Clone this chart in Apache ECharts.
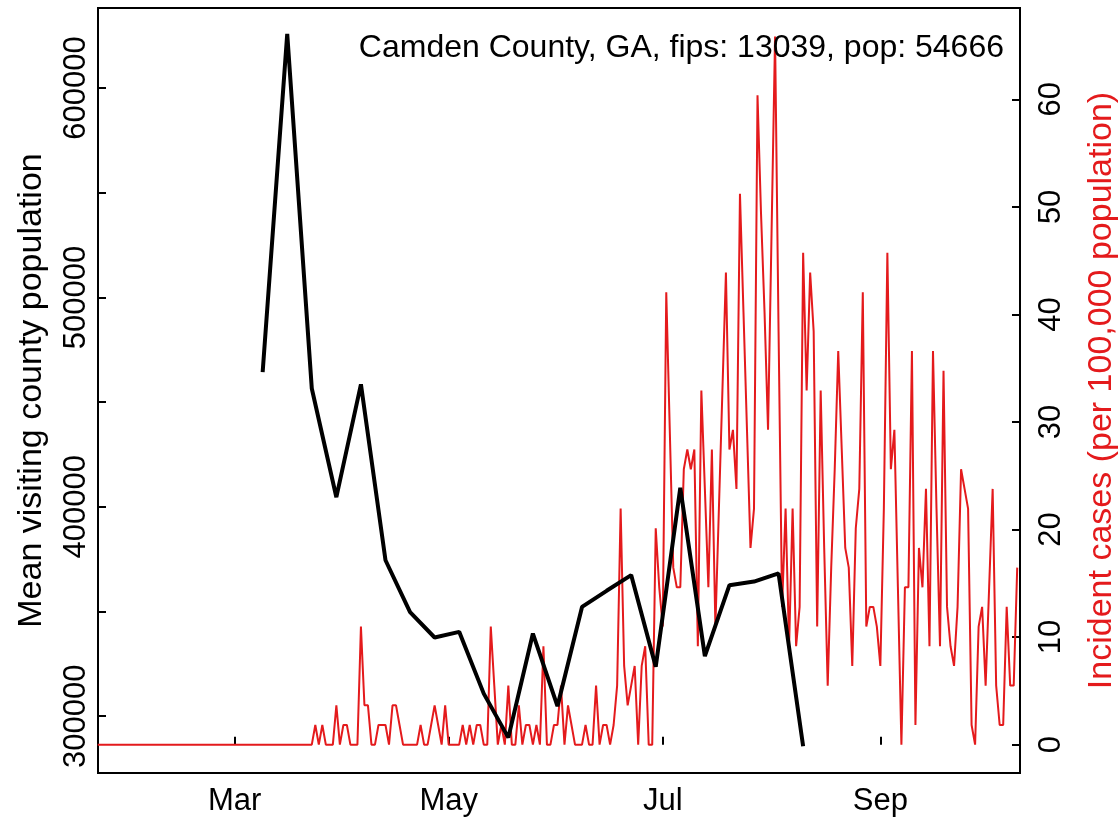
<!DOCTYPE html>
<html><head><meta charset="utf-8">
<script src="https://cdn.jsdelivr.net/npm/echarts@6/dist/echarts.min.js"></script>
<style>html,body{margin:0;padding:0;background:#fff}#c{width:1119px;height:822px}</style>
</head><body><div id="c"></div>
<script>
// ---------- data ----------
const chartTitle = 'Camden County, GA, fips: 13039, pop: 54666';
const leftAxisName = 'Mean visiting county population';
const rightAxisName = 'Incident cases (per 100,000 population)';

const monthTickDates = ['2020-03-01', '2020-05-01', '2020-07-01', '2020-09-01'];
const monthTickLabels = ['Mar', 'May', 'Jul', 'Sep'];
const leftTicks = [300000, 350000, 400000, 450000, 500000, 550000, 600000];
const leftTickLabels = [300000, 400000, 500000, 600000];
const rightTicks = [0, 10, 20, 30, 40, 50, 60];

// weekly mean visiting county population
const mobilityDates = ['2020-03-09','2020-03-16','2020-03-23','2020-03-30','2020-04-06','2020-04-13',
  '2020-04-20','2020-04-27','2020-05-04','2020-05-11','2020-05-18','2020-05-25','2020-06-01',
  '2020-06-08','2020-06-15','2020-06-22','2020-06-29','2020-07-06','2020-07-13','2020-07-20',
  '2020-07-27','2020-08-03','2020-08-10'];
const mobilityValues = [464300, 625800, 456500, 404600, 458500, 374500, 349700, 337600, 340300,
  310800, 289800, 339500, 304800, 352200, 359900, 367400, 323600, 409100, 328700, 362600,
  364300, 368200, 285700];

// daily incident cases per 100,000, starting 2020-01-22
const casesStartDate = '2020-01-22';
const casesValues = [
  0,0,0,0,0,0,0,0,0,0, 0,0,0,0,0,0,0,0,0,0, 0,0,0,0,0,0,0,0,0,0,
  0,0,0,0,0,0,0,0,0,0, 0,0,0,0,0,0,0,0,0,0, 0,0,0,0,0,0,0,0,0,0, 0,0,
  1.83,0,1.83,0,0,0,3.66,0,1.83,1.83,
  0,0,0,10.98,3.66,3.66,0,0,1.83,1.83,
  1.83,0,3.66,3.66,1.83,0,0,0,0,0,
  1.83,0,0,1.83,3.66,1.83,0,3.66,0,0,
  0,0,1.83,0,1.83,0,1.83,1.83,0,0,
  10.98,5.49,0,1.83,0,5.49,0,0,3.66,0,
  1.83,1.83,0,1.83,0,9.15,0,0,1.83,1.83,
  5.49,0,3.66,1.83,0,0,0,1.83,0,0,
  5.49,0,1.83,1.83,0,1.83,5.49,21.95,7.32,3.66,
  5.49,7.32,0,7.32,9.15,0,0,20.12,14.63,10.98,
  42.07,29.27,16.46,14.63,14.63,25.61,27.44,25.61,27.44,9.15,
  32.93,23.78,14.63,27.44,10.98,21.95,32.93,43.90,27.44,29.27,
  23.78,51.22,40.24,29.27,18.29,21.95,60.37,49.39,40.24,29.27,
  47.56,65.85,38.42,12.81,21.95,9.15,21.95,9.15,12.81,45.73,
  32.93,43.90,38.42,10.98,32.93,18.29,5.49,16.46,25.61,36.59,
  27.44,18.29,16.46,7.32,20.12,23.78,42.07,10.98,12.81,12.81,
  10.98,7.32,21.95,45.73,25.61,29.27,14.63,0,14.63,14.63,
  36.59,1.83,18.29,14.63,23.78,9.15,36.59,21.95,9.15,34.76,
  12.81,9.15,7.32,12.81,25.61,23.78,21.95,1.83,0,10.98,
  12.81,5.49,14.63,23.78,5.49,1.83,1.83,12.81,5.49,5.49,
  16.46
];

// ---------- helpers ----------
function toTime(s) { const p = s.split('-').map(Number); return new Date(p[0], p[1] - 1, p[2]).getTime(); }
const sp = casesStartDate.split('-').map(Number);
const casesData = casesValues.map((v, i) => [new Date(sp[0], sp[1] - 1, sp[2] + i).getTime(), v]);
const mobilityData = mobilityDates.map((d, i) => [toTime(d), mobilityValues[i]]);
const monthTickTimes = monthTickDates.map(toTime);

const FONT = 'Liberation Sans, Arial, Helvetica, sans-serif';
const FS = 31;
const FS_NAME = 34;

const chart = echarts.init(document.getElementById('c'), null, { renderer: 'canvas' });
chart.setOption({
  animation: false,
  backgroundColor: '#ffffff',
  title: {
    text: chartTitle, right: 110, top: 27,
    textStyle: { fontFamily: FONT, fontSize: 32, fontWeight: 'normal', color: '#000' }
  },
  grid: {
    left: 98, top: 8, width: 922, height: 765, show: true, borderColor: '#000', borderWidth: 2,
    containLabel: false, outerBoundsMode: 'none'
  },
  xAxis: {
    type: 'value',
    min: new Date(2020, 0, 22, 2).getTime(),
    max: new Date(2020, 9, 10, 19).getTime(),
    splitLine: { show: false },
    axisLine: { show: false },
    axisTick: { show: true, inside: true, length: 8, customValues: monthTickTimes, lineStyle: { color: '#000', width: 2 } },
    axisLabel: {
      customValues: monthTickTimes, margin: 13, color: '#000', fontFamily: FONT, fontSize: FS,
      formatter: function (v) { const i = monthTickTimes.indexOf(v); return i >= 0 ? monthTickLabels[i] : ''; }
    }
  },
  yAxis: [{
    type: 'value', position: 'left', min: 272900, max: 638200,
    name: leftAxisName, nameLocation: 'middle', nameGap: 49, nameRotate: 90,
    nameTextStyle: { fontFamily: FONT, fontSize: FS_NAME, color: '#000' },
    splitLine: { show: false },
    axisLine: { show: false },
    axisTick: { show: true, inside: true, length: 8, customValues: leftTicks, lineStyle: { color: '#000', width: 2 } },
    axisLabel: {
      customValues: leftTickLabels, rotate: 90, margin: 6, color: '#000', fontFamily: FONT, fontSize: FS,
      formatter: function (v) { return String(v); }
    }
  }, {
    type: 'value', position: 'right', min: -2.634, max: 68.49,
    name: rightAxisName, nameLocation: 'middle', nameGap: 65, nameRotate: 90,
    nameTextStyle: { fontFamily: FONT, fontSize: FS_NAME, color: '#E41A1C' },
    splitLine: { show: false },
    axisLine: { show: false },
    axisTick: { show: true, inside: true, length: 8, customValues: rightTicks, lineStyle: { color: '#000', width: 2 } },
    axisLabel: { customValues: rightTicks, rotate: 90, margin: 16, color: '#000', fontFamily: FONT, fontSize: FS }
  }],
  series: [{
    type: 'line', yAxisIndex: 1, data: casesData, symbol: 'none', clip: true,
    lineStyle: { color: '#E41A1C', width: 2 }, z: 2
  }, {
    type: 'line', yAxisIndex: 0, data: mobilityData, symbol: 'none', clip: true,
    lineStyle: { color: '#000', width: 4 }, z: 3
  }]
});
</script>
</body></html>
